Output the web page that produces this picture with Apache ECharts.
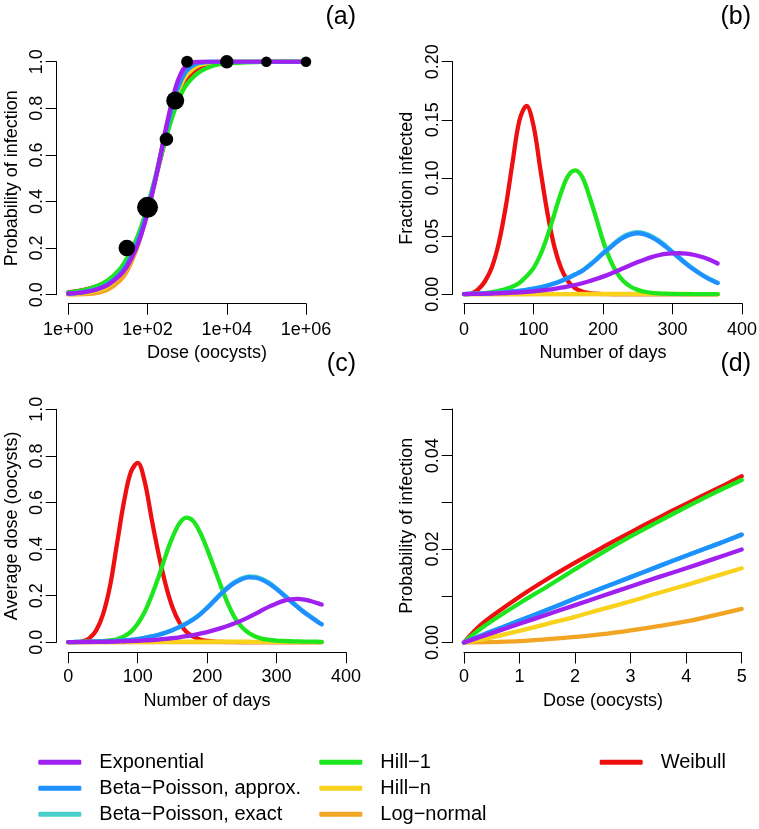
<!DOCTYPE html>
<html>
<head>
<meta charset="utf-8">
<script src="https://cdn.jsdelivr.net/npm/echarts@6/dist/echarts.min.js"></script>
<style>
html,body{margin:0;padding:0;background:#fff;}
#main{width:759px;height:829px;}
</style>
</head>
<body>
<div id="main"></div>
<script>
// ---------- Data ----------
const seriesNames = ['Exponential','Beta\u2212Poisson, approx.','Beta\u2212Poisson, exact','Hill\u22121','Hill\u2212n','Log\u2212normal','Weibull'];

// Panel (a): dose-response fits and observed data
const doseA = [1,2,5,10,20,30,50,70,100,150,200,300,500,700,1000,2000,5000,1e4,1e5,1e6];
const expA   = [0.0043,0.0086,0.0213,0.0421,0.0824,0.121,0.1935,0.2599,0.3495,0.4755,0.5768,0.7249,0.8835,0.9507,0.9864,0.9998,1,1,1,1];
const bpaA   = [0.0047,0.0094,0.0232,0.0457,0.0888,0.13,0.2054,0.2735,0.3619,0.483,0.577,0.711,0.854,0.92,0.964,0.995,0.9998,1,1,1];
const bpeA   = [0.0047,0.0093,0.023,0.0453,0.0882,0.1292,0.2045,0.2727,0.3612,0.4825,0.5768,0.7115,0.8555,0.9215,0.9655,0.9955,0.9998,1,1,1];
const hill1A = [0.0085,0.016,0.035,0.062,0.11,0.155,0.23,0.295,0.38,0.49,0.57,0.68,0.8,0.86,0.905,0.955,0.985,0.993,0.9995,1];
const hillnA = [0.0025,0.0055,0.016,0.036,0.08,0.125,0.205,0.275,0.37,0.49,0.58,0.71,0.84,0.9,0.945,0.985,0.997,0.999,1,1];
const lognA  = [0.0003,0.0012,0.0072,0.022,0.06,0.1,0.185,0.26,0.36,0.485,0.58,0.71,0.845,0.905,0.95,0.988,0.998,1,1,1];
const weibA  = [0.0098,0.0171,0.035,0.06,0.105,0.145,0.215,0.28,0.37,0.48,0.565,0.685,0.82,0.885,0.93,0.975,0.995,0.999,1,1];
const obsDose = [30,100,300,500,1000,1e4,1e5,1e6];
const obsFrac = [0.2,0.375,0.667,0.833,1,1,1,1];
const obsSubjects = [5,8,3,6,2,3,1,1];

// Panels (b) and (c): days
const days = [0,10,20,30,40,50,60,70,80,90,100,110,120,130,140,150,160,170,180,190,200,210,220,230,240,250,260,270,280,290,300,310,320,330,340,350,360,365];

// Panel (b): fraction infected
const expB   = [0.0002,0.0003,0.0004,0.0005,0.0007,0.0009,0.0011,0.0014,0.0017,0.0021,0.0026,0.0032,0.0039,0.0047,0.0057,0.0068,0.008,0.0095,0.0112,0.0131,0.0152,0.0175,0.02,0.0226,0.0252,0.0277,0.03,0.032,0.0336,0.0347,0.0352,0.0353,0.0349,0.034,0.0325,0.0305,0.028,0.0265];
const bpaB   = [0.0002,0.0003,0.0005,0.0007,0.001,0.0014,0.0018,0.0024,0.003,0.0038,0.0048,0.006,0.0075,0.0093,0.0115,0.014,0.017,0.02,0.0245,0.0295,0.035,0.04,0.045,0.049,0.0515,0.0525,0.0515,0.049,0.0455,0.041,0.036,0.031,0.026,0.0215,0.0175,0.014,0.011,0.0097];
const bpeB   = [0.0002,0.0003,0.0005,0.0007,0.001,0.0014,0.0019,0.0025,0.0031,0.0039,0.0049,0.0061,0.0077,0.0095,0.0117,0.0143,0.0173,0.0204,0.025,0.0301,0.0357,0.0408,0.0459,0.05,0.0525,0.0535,0.0525,0.05,0.0464,0.0418,0.0367,0.0316,0.0265,0.0219,0.0179,0.0143,0.0113,0.0099];
const hill1B = [0,0.0002,0.0005,0.001,0.0018,0.003,0.0045,0.0067,0.01,0.0155,0.0225,0.034,0.05,0.069,0.088,0.102,0.1065,0.101,0.085,0.066,0.046,0.03,0.0185,0.011,0.0065,0.0038,0.0022,0.0013,0.0008,0.0005,0.0003,0.0002,0.0002,0.0001,0.0001,0.0001,0.0001,0.0001];
const hillnB = [0,0,0,0,0,0,0,0,0,0,0.0001,0.0001,0.0001,0.0001,0.0002,0.0002,0.0002,0.0003,0.0003,0.0003,0.0003,0.0004,0.0004,0.0004,0.0004,0.0004,0.0004,0.0004,0.0003,0.0003,0.0003,0.0003,0.0003,0.0002,0.0002,0.0002,0.0002,0.0002];
const lognB  = [0,0,0,0,0,0,0,0,0,0,0,0,0,0,0,0,0,0,0,0,0,0,0,0,0,0,0,0,0,0,0,0,0,0,0,0,0,0];
const weibB  = [0,0.0005,0.004,0.011,0.023,0.044,0.075,0.114,0.15,0.162,0.145,0.107,0.07,0.041,0.022,0.011,0.0052,0.0024,0.0011,0.0005,0.0002,0.0001,0,0,0,0,0,0,0,0,0,0,0,0,0,0,0,0];

// Panel (c): average dose
const expC   = [0.0005,0.0007,0.001,0.0013,0.0017,0.0022,0.0027,0.0034,0.0042,0.0052,0.0065,0.008,0.0097,0.0118,0.0145,0.0177,0.0215,0.026,0.031,0.037,0.044,0.052,0.061,0.071,0.082,0.094,0.108,0.123,0.139,0.154,0.167,0.178,0.184,0.186,0.183,0.176,0.167,0.162];
const bpaC   = [0.001,0.0013,0.0017,0.0022,0.0028,0.0035,0.0045,0.006,0.008,0.0105,0.014,0.019,0.025,0.032,0.041,0.052,0.065,0.08,0.098,0.12,0.147,0.177,0.207,0.234,0.256,0.271,0.279,0.277,0.267,0.25,0.228,0.203,0.177,0.152,0.128,0.107,0.086,0.077];
const bpeC   = [0.001,0.0013,0.0017,0.0022,0.0028,0.0036,0.0046,0.0061,0.0081,0.0107,0.0142,0.0193,0.0254,0.0325,0.0416,0.0528,0.066,0.0812,0.0995,0.1218,0.1492,0.1797,0.2101,0.2375,0.2598,0.2751,0.2832,0.2812,0.271,0.2538,0.2314,0.206,0.1797,0.1543,0.1299,0.1086,0.0873,0.0782];
const hill1C = [0,0.0005,0.001,0.002,0.003,0.005,0.008,0.013,0.025,0.045,0.08,0.13,0.2,0.28,0.37,0.45,0.51,0.535,0.52,0.47,0.4,0.32,0.24,0.165,0.105,0.065,0.04,0.024,0.015,0.01,0.007,0.0055,0.0045,0.0038,0.0032,0.0027,0.0023,0.0022];
const hillnC = [0,0,0,0,0,0,0.0001,0.0002,0.0003,0.0005,0.0007,0.001,0.0013,0.0016,0.0019,0.0022,0.0025,0.0027,0.0029,0.003,0.003,0.003,0.0029,0.0028,0.0027,0.0025,0.0023,0.0021,0.0019,0.0017,0.0015,0.0013,0.0012,0.0011,0.001,0.0009,0.0008,0.0008];
const lognC  = [0,0,0,0,0,0,0,0,0,0,0,0,0,0,0,0,0,0,0,0,0,0,0,0,0,0,0,0,0,0,0,0,0,0,0,0,0,0];
const weibC  = [0,0.0005,0.004,0.017,0.05,0.12,0.24,0.42,0.6,0.73,0.77,0.69,0.53,0.38,0.25,0.15,0.085,0.045,0.024,0.012,0.006,0.003,0.0015,0.0008,0.0004,0.0002,0.0001,0,0,0,0,0,0,0,0,0,0,0];

// Panel (d): low-dose probability of infection
const doseD  = [0,0.25,0.5,1,1.5,2,2.5,3,3.5,4,4.5,5];
const expD   = [0,0.001,0.002,0.004,0.006,0.008,0.01,0.012,0.014,0.0159,0.0179,0.0199];
const bpaD   = [0,0.0012,0.0024,0.0047,0.007,0.0094,0.0117,0.014,0.0163,0.0186,0.0208,0.0231];
const bpeD   = [0,0.0012,0.0024,0.0047,0.007,0.0094,0.0117,0.014,0.0163,0.0186,0.0208,0.0231];
const hill1D = [0,0.0025,0.0046,0.0084,0.012,0.0157,0.0193,0.0227,0.0259,0.029,0.032,0.0348];
const hillnD = [0,0.0005,0.0011,0.0025,0.004,0.0055,0.0072,0.0088,0.0106,0.0123,0.0141,0.0159];
const lognD  = [0,0.00002,0.0001,0.0003,0.0007,0.0012,0.0018,0.0026,0.0035,0.0045,0.0058,0.0072];
const weibD  = [0,0.0032,0.0056,0.0098,0.0136,0.0171,0.0204,0.0236,0.0267,0.0297,0.0326,0.0356];

// Tick labels
const xTicksA = ['1e+00','1e+02','1e+04','1e+06'];

// ---------- Styling ----------
const colors = ['#A020F0','#1E90FF','#48D1CC','#1EE61E','#F8D21C','#F2A524','#EE1010'];
const drawOrder = [6,5,4,3,2,1,0];
const FONT = "'Liberation Sans', Arial, Helvetica, sans-serif";

const panels = [
  {xs: doseA, ys: [expA,bpaA,bpeA,hill1A,hillnA,lognA,weibA]},
  {xs: days,  ys: [expB,bpaB,bpeB,hill1B,hillnB,lognB,weibB]},
  {xs: days,  ys: [expC,bpaC,bpeC,hill1C,hillnC,lognC,weibC]},
  {xs: doseD, ys: [expD,bpaD,bpeD,hill1D,hillnD,lognD,weibD]}
];

function pairs(xs, ys){ return xs.map((x,i)=>[x, ys[i]]); }

const grids = [
  {left: 68.3, top: 61.7, width: 237.7, height: 233},
  {left: 464,  top: 61.7, width: 278,   height: 232.6},
  {left: 68.3, top: 409.3, width: 277.7, height: 233},
  {left: 464,  top: 409,  width: 277.7, height: 233.5}
].map(g => Object.assign({containLabel:false, outerBoundsMode:'none', show:false}, g));

const axisCommon = {
  axisLine: {show:true, onZero:false, lineStyle:{color:'#000', width:1}},
  axisTick: {show:true, length:11, inside:false, lineStyle:{color:'#000', width:1}},
  splitLine: {show:false},
  minorTick: {show:false},
  axisPointer: {show:false}
};
const xLabel = {color:'#000', fontSize:18, fontFamily:FONT, margin:17.5, showMinLabel:true, showMaxLabel:true, hideOverlap:false};
const yLabel = {color:'#000', fontSize:18, fontFamily:FONT, margin:11, rotate:90, showMinLabel:true, showMaxLabel:true, hideOverlap:false};

const xAxes = [
  Object.assign({gridIndex:0, type:'log', logBase:100, min:1, max:1e6, offset:9,
    axisLabel: Object.assign({}, xLabel, {formatter: v => xTicksA[Math.round(Math.log10(v)/2)]})}, axisCommon),
  Object.assign({gridIndex:1, type:'value', min:0, max:400, interval:100, offset:9,
    axisLabel: Object.assign({}, xLabel)}, axisCommon),
  Object.assign({gridIndex:2, type:'value', min:0, max:400, interval:100, offset:10,
    axisLabel: Object.assign({}, xLabel, {margin:16})}, axisCommon),
  Object.assign({gridIndex:3, type:'value', min:0, max:5, interval:1, offset:10,
    axisLabel: Object.assign({}, xLabel, {margin:16})}, axisCommon)
];
const yAxes = [
  Object.assign({gridIndex:0, type:'value', min:0, max:1, interval:0.2, offset:11.6,
    axisLabel: Object.assign({}, yLabel, {formatter: v => v.toFixed(1)})}, axisCommon),
  Object.assign({gridIndex:1, type:'value', min:0, max:0.2, interval:0.05, offset:11.3,
    axisLabel: Object.assign({}, yLabel, {formatter: v => v.toFixed(2)})}, axisCommon),
  Object.assign({gridIndex:2, type:'value', min:0, max:1, interval:0.2, offset:11.6,
    axisLabel: Object.assign({}, yLabel, {formatter: v => v.toFixed(1)})}, axisCommon),
  Object.assign({gridIndex:3, type:'value', min:0, max:0.05, interval:0.01, offset:11.3,
    axisLabel: Object.assign({}, yLabel, {formatter: v => { const k = Math.round(v*100); return k % 2 === 0 ? (k/100).toFixed(2) : ''; }})}, axisCommon)
];

const series = [];
panels.forEach((p, g) => {
  drawOrder.forEach(k => {
    series.push({
      type:'line', name: seriesNames[k], xAxisIndex:g, yAxisIndex:g,
      data: pairs(p.xs, p.ys[k]),
      showSymbol:false, symbol:'none', smooth:0.35,
      lineStyle:{width:4.3, color:colors[k], cap:'round', join:'round'},
      itemStyle:{color:colors[k]},
      silent:true, animation:false
    });
  });
});
series.push({
  type:'scatter', name:'Observed', xAxisIndex:0, yAxisIndex:0,
  data: pairs(obsDose, obsFrac),
  symbol:'circle',
  symbolSize: (val, params) => 9 + 1.5 * obsSubjects[params.dataIndex],
  itemStyle:{color:'#000', opacity:1}, clip:false, silent:true, z:5, animation:false
});

function txt(text, x, y, opts){
  return Object.assign({type:'text', x:x, y:y, silent:true,
    style: {text:text, fill:'#000', font: (opts && opts.size || 18) + 'px ' + FONT,
      align: (opts && opts.align) || 'center', verticalAlign:'middle'}}, (opts && opts.rot) ? {rotation: opts.rot} : {});
}
const graphics = [
  txt('(a)', 356, 17, {size:25, align:'right'}),
  txt('(b)', 751, 17, {size:25, align:'right'}),
  txt('(c)', 356, 364, {size:25, align:'right'}),
  txt('(d)', 751, 364, {size:25, align:'right'}),
  txt('Dose (oocysts)', 207, 353),
  txt('Number of days', 603, 353),
  txt('Number of days', 207, 701),
  txt('Dose (oocysts)', 603, 701),
  txt('Probability of infection', 12, 178.2, {rot: Math.PI/2}),
  txt('Fraction infected', 407, 178.2, {rot: Math.PI/2}),
  txt('Average dose (oocysts)', 12, 525.8, {rot: Math.PI/2}),
  txt('Probability of infection', 407, 525.8, {rot: Math.PI/2})
];

const legendCommon = {
  orient:'vertical', top:752.3, padding:0, itemWidth:43, itemHeight:5, itemGap:6,
  icon:'roundRect', selectedMode:false,
  itemStyle:{borderWidth:0},
  textStyle:{color:'#000', fontSize:20, lineHeight:20, fontFamily:FONT, padding:[0,0,0,13]}
};
const legends = [
  Object.assign({left:38.3, data:[seriesNames[0],seriesNames[1],seriesNames[2]]}, legendCommon),
  Object.assign({left:319.3, data:[seriesNames[3],seriesNames[4],seriesNames[5]]}, legendCommon),
  Object.assign({left:599.7, data:[seriesNames[6]]}, legendCommon)
];

const chart = echarts.init(document.getElementById('main'), null, {renderer:'canvas'});
chart.setOption({
  animation:false,
  backgroundColor:'#fff',
  textStyle:{fontFamily:FONT},
  grid: grids,
  xAxis: xAxes,
  yAxis: yAxes,
  legend: legends,
  series: series,
  graphic: graphics
});
</script>
</body>
</html>
